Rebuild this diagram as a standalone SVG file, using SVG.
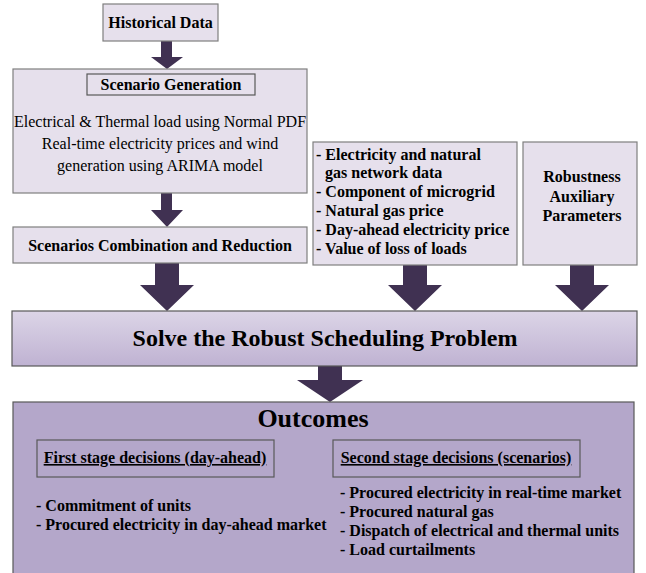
<svg xmlns="http://www.w3.org/2000/svg" width="646" height="573" viewBox="0 0 646 573">
<style>
.box{fill:#E6E0EC;stroke:#7F7F7F;stroke-width:1.2}
.sub{fill:none;stroke:#595959;stroke-width:1.2}
.arr{fill:#403152}
text{font-family:"Liberation Serif","Times New Roman",serif;fill:#000}
.b{font-weight:bold;font-size:16px}
.r{font-size:16px}
.c{text-anchor:middle}
.u{text-decoration:underline}
</style>
<defs>
<linearGradient id="g1" x1="0" y1="0" x2="0" y2="1">
<stop offset="0" stop-color="#DCD5E7"/>
<stop offset="1" stop-color="#BFB2D2"/>
</linearGradient>
</defs>
<rect width="646" height="573" fill="#fff"/>
<g id="connectors">
<polygon class="arr" points="161,41 172,41 172,57 183,57 167,69 151,57 161,57"/>
<polygon class="arr" points="161,193 172,193 172,210 183,210 167,227 151,210 161,210"/>
<polygon class="arr" points="155,263 179,263 179,285 194,285 167,311 140,285 155,285"/>
<polygon class="arr" points="403,265 427,265 427,285 442,285 415,311 388,285 403,285"/>
<polygon class="arr" points="570,265 594,265 594,285 609,285 582,311 555,285 570,285"/>
<polygon class="arr" points="318,366 342,366 342,380 363,380 330,402 297,380 318,380"/>
</g>
<g id="historical">
<rect class="box" x="103" y="4" width="115" height="37"/>
<text class="b c" x="160.5" y="28">Historical Data</text>
</g>
<g id="scenario-generation">
<rect class="box" x="13" y="69" width="294" height="124"/>
<rect class="sub" x="87" y="74" width="168" height="21" fill="#E6E0EC"/>
<text class="b c" x="171" y="90">Scenario Generation</text>
<text class="r c" x="160" y="127">Electrical &amp; Thermal load using Normal PDF</text>
<text class="r c" x="160" y="149">Real-time electricity prices and wind</text>
<text class="r c" x="160" y="171">generation using ARIMA model</text>
</g>
<g id="combination">
<rect class="box" x="13" y="227" width="294" height="36"/>
<text class="b c" x="160" y="251">Scenarios Combination and Reduction</text>
</g>
<g id="data">
<rect class="box" x="313" y="142" width="204" height="123"/>
<text class="b" x="316" y="160">- Electricity and natural</text>
<text class="b" x="325" y="178">gas network data</text>
<text class="b" x="316" y="197">- Component of microgrid</text>
<text class="b" x="316" y="216">- Natural gas price</text>
<text class="b" x="316" y="235">- Day-ahead electricity price</text>
<text class="b" x="316" y="254">- Value of loss of loads</text>
</g>
<g id="robustness">
<rect class="box" x="523" y="142" width="114" height="123"/>
<text class="b c" x="582" y="182">Robustness</text>
<text class="b c" x="582" y="202">Auxiliary</text>
<text class="b c" x="582" y="221">Parameters</text>
</g>
<g id="solve">
<rect x="12" y="311" width="625" height="55" fill="url(#g1)" stroke="#595959" stroke-width="1.2"/>
<text class="c" x="325" y="346" font-size="24" font-weight="bold">Solve the Robust Scheduling Problem</text>
</g>
<g id="outcomes">
<rect x="13" y="402" width="621" height="180" fill="#B4A7CA" stroke="#595959" stroke-width="1.2"/>
<text class="c" x="313" y="427" font-size="26" font-weight="bold">Outcomes</text>
<rect class="sub" x="37" y="440" width="237" height="37"/>
<text class="b c u" x="155" y="463">First stage decisions (day-ahead)</text>
<rect class="sub" x="333" y="440" width="247" height="37"/>
<text class="b c u" x="456" y="463">Second stage decisions (scenarios)</text>
<text class="b" x="36" y="511">- Commitment of units</text>
<text class="b" x="36" y="530">- Procured electricity in day-ahead market</text>
<text class="b" x="340" y="498">- Procured electricity in real-time market</text>
<text class="b" x="340" y="517">- Procured natural gas</text>
<text class="b" x="340" y="536">- Dispatch of electrical and thermal units</text>
<text class="b" x="340" y="555">- Load curtailments</text>
</g>
</svg>
